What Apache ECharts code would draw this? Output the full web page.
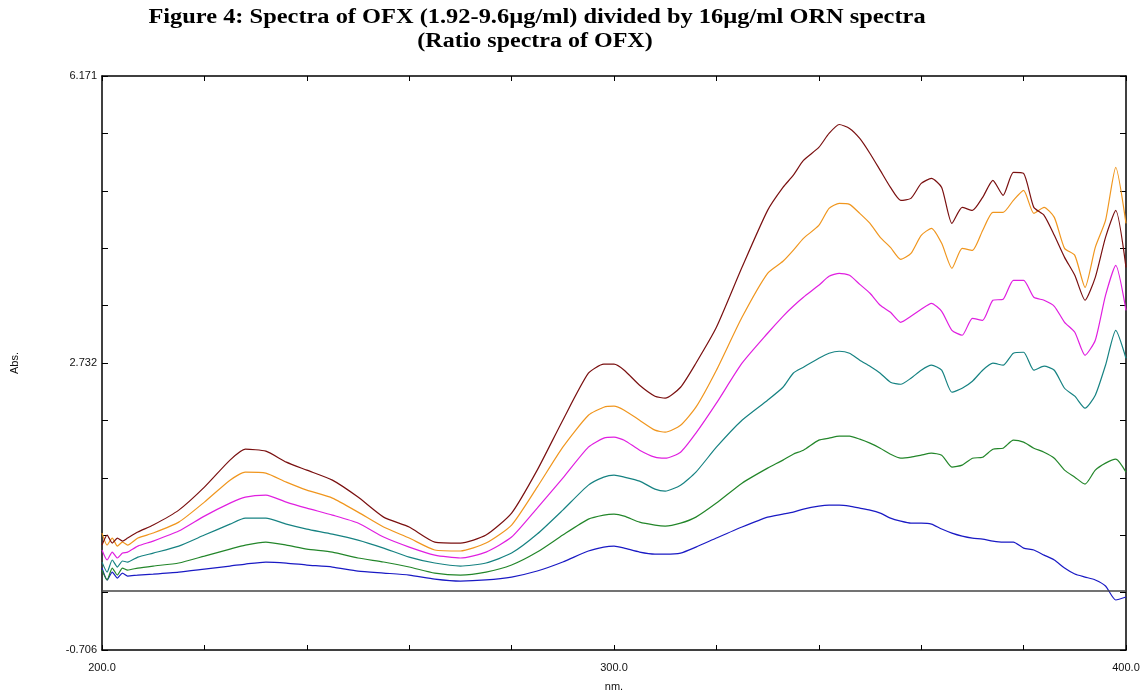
<!DOCTYPE html>
<html>
<head>
<meta charset="UTF-8">
<title>Ratio spectra of OFX</title>
<script src="https://cdn.jsdelivr.net/npm/echarts@6/dist/echarts.min.js"></script>
<style>
  html, body { margin: 0; padding: 0; background: #fff; }
  #chart { width: 1144px; height: 692px; }
</style>
</head>
<body>
<div id="chart"></div>
<script>
// wavelength (nm), shared by all six spectra
var wavelength = [200, 201, 202, 203, 204, 205, 207, 210, 215, 220, 225, 228, 232, 236, 240, 245,
  250, 255, 260, 265, 270, 275, 280, 285, 290, 295, 298, 300, 302, 305, 308, 310, 313, 316, 320,
  325, 330, 333, 335, 337, 340, 342, 344, 346, 348, 350, 352, 354, 356, 358, 360, 362, 364, 366,
  368, 370, 372, 374, 376, 378, 380, 382, 384, 386, 388, 390, 392, 394, 396, 398, 400];

// ratio spectra, highest concentration first (Abs.)
var brown = [0.551, 0.671, 0.575, 0.635, 0.599, 0.635, 0.707, 0.791, 0.970, 1.245, 1.569, 1.700,
  1.676, 1.545, 1.449, 1.329, 1.126, 0.886, 0.767, 0.587, 0.575, 0.671, 0.934, 1.449, 2.047, 2.610,
  2.718, 2.718, 2.646, 2.466, 2.335, 2.311, 2.442, 2.730, 3.160, 3.879, 4.561, 4.836, 4.980, 5.159,
  5.315, 5.483, 5.590, 5.543, 5.423, 5.243, 5.040, 4.836, 4.681, 4.705, 4.884, 4.944, 4.836, 4.405,
  4.597, 4.561, 4.717, 4.920, 4.741, 5.016, 5.004, 4.597, 4.501, 4.262, 3.998, 3.783, 3.484, 3.759,
  4.238, 4.561, 3.879];
var orange = [0.695, 0.551, 0.635, 0.539, 0.587, 0.551, 0.635, 0.695, 0.826, 1.066, 1.329, 1.425,
  1.413, 1.305, 1.210, 1.114, 0.946, 0.767, 0.635, 0.492, 0.480, 0.575, 0.791, 1.245, 1.724, 2.107,
  2.203, 2.215, 2.167, 2.047, 1.928, 1.904, 1.987, 2.203, 2.646, 3.280, 3.807, 3.951, 4.082, 4.226,
  4.381, 4.585, 4.645, 4.633, 4.525, 4.405, 4.238, 4.118, 3.974, 4.046, 4.262, 4.346, 4.166, 3.867,
  4.106, 4.082, 4.321, 4.537, 4.537, 4.681, 4.800, 4.525, 4.597, 4.477, 4.106, 4.022, 3.639, 4.118,
  4.441, 5.076, 4.405];
var magenta = [0.492, 0.372, 0.467, 0.396, 0.455, 0.467, 0.539, 0.599, 0.719, 0.898, 1.054, 1.126,
  1.150, 1.066, 0.994, 0.910, 0.815, 0.647, 0.527, 0.431, 0.396, 0.467, 0.647, 0.994, 1.353, 1.724,
  1.832, 1.844, 1.808, 1.688, 1.604, 1.592, 1.664, 1.892, 2.251, 2.730, 3.089, 3.292, 3.412, 3.520,
  3.663, 3.771, 3.807, 3.783, 3.675, 3.568, 3.424, 3.340, 3.220, 3.292, 3.376, 3.448, 3.352, 3.124,
  3.065, 3.268, 3.244, 3.484, 3.496, 3.723, 3.723, 3.520, 3.484, 3.412, 3.220, 3.101, 2.825, 3.005,
  3.543, 3.903, 3.364];
var teal = [0.347, 0.228, 0.372, 0.288, 0.360, 0.347, 0.407, 0.455, 0.539, 0.671, 0.802, 0.874,
  0.874, 0.802, 0.743, 0.683, 0.611, 0.515, 0.407, 0.336, 0.300, 0.336, 0.455, 0.683, 0.970, 1.269,
  1.365, 1.389, 1.365, 1.317, 1.222, 1.198, 1.269, 1.425, 1.724, 2.047, 2.287, 2.442, 2.610, 2.682,
  2.789, 2.849, 2.873, 2.849, 2.765, 2.694, 2.610, 2.502, 2.478, 2.550, 2.646, 2.706, 2.646, 2.382,
  2.430, 2.514, 2.646, 2.730, 2.706, 2.849, 2.861, 2.646, 2.694, 2.646, 2.430, 2.335, 2.191, 2.347,
  2.706, 3.124, 2.789];
var green = [0.252, 0.133, 0.276, 0.192, 0.276, 0.252, 0.276, 0.300, 0.336, 0.419, 0.503, 0.551,
  0.587, 0.551, 0.503, 0.467, 0.396, 0.348, 0.288, 0.216, 0.192, 0.228, 0.312, 0.467, 0.671, 0.862,
  0.910, 0.922, 0.898, 0.826, 0.791, 0.779, 0.814, 0.886, 1.054, 1.293, 1.473, 1.569, 1.640, 1.688,
  1.808, 1.832, 1.856, 1.856, 1.820, 1.772, 1.712, 1.640, 1.592, 1.604, 1.628, 1.652, 1.628, 1.485,
  1.509, 1.592, 1.604, 1.700, 1.712, 1.808, 1.784, 1.712, 1.664, 1.592, 1.449, 1.365, 1.281, 1.449,
  1.533, 1.581, 1.425];
var blue = [0.276, 0.133, 0.228, 0.156, 0.216, 0.180, 0.192, 0.204, 0.228, 0.264, 0.300, 0.324,
  0.348, 0.336, 0.312, 0.288, 0.240, 0.216, 0.192, 0.144, 0.120, 0.133, 0.168, 0.240, 0.348, 0.480,
  0.527, 0.539, 0.515, 0.467, 0.443, 0.443, 0.455, 0.527, 0.635, 0.767, 0.886, 0.922, 0.946, 0.982,
  1.018, 1.030, 1.030, 1.018, 0.994, 0.970, 0.934, 0.874, 0.838, 0.814, 0.814, 0.802, 0.743, 0.695,
  0.659, 0.635, 0.623, 0.599, 0.587, 0.587, 0.515, 0.492, 0.431, 0.372, 0.276, 0.204, 0.168, 0.133,
  0.061, -0.107, -0.071];

// axis ticks / labels
var xMin = 200, xMax = 400, xStep = 20;
var xLabels = [200, 300, 400];
var yMin = -0.706, yMax = 6.171;
var yLabels = ['-0.706', '2.732', '6.171'];

var titleLine1 = 'Figure 4: Spectra of OFX (1.92-9.6\u00b5g/ml) divided by 16\u00b5g/ml ORN spectra';
var titleLine2 = '(Ratio spectra of OFX)';

var chart = echarts.init(document.getElementById('chart'));

function pairs(vals) {
  return wavelength.map(function (w, i) { return [w, vals[i]]; });
}

var yStep = (yMax - yMin) / 10;

function yLabel(v) {
  for (var i = 0; i < yLabels.length; i++) {
    if (Math.abs(v - parseFloat(yLabels[i])) < 0.01) return yLabels[i];
  }
  return '';
}

var labelFont = { fontFamily: 'Liberation Sans, Arial, sans-serif', fontSize: 11, color: '#111' };
var axisLine = { show: true, onZero: false, lineStyle: { color: '#000', width: 1.5 } };
var titleFont = 'bold 20px "Liberation Serif", "Times New Roman", serif';

var spectra = [
  { name: 'blue', data: blue, color: '#1a1ac4' },
  { name: 'green', data: green, color: '#23862a' },
  { name: 'teal', data: teal, color: '#168282' },
  { name: 'magenta', data: magenta, color: '#e01fe0' },
  { name: 'orange', data: orange, color: '#f0961e' },
  { name: 'brown', data: brown, color: '#7a1010' }
];

var series = spectra.map(function (s) {
  return {
    name: s.name,
    type: 'line',
    data: pairs(s.data),
    showSymbol: false,
    symbol: 'none',
    smooth: 0.2,
    lineStyle: { color: s.color, width: 1.2 },
    itemStyle: { color: s.color }
  };
});
// horizontal zero line
series[0].markLine = {
  silent: true,
  symbol: 'none',
  label: { show: false },
  lineStyle: { color: '#444', width: 1.5, type: 'solid' },
  data: [{ yAxis: 0 }]
};

var option = {
  animation: false,
  backgroundColor: '#fff',
  grid: { left: 102, right: 18, top: 76, bottom: 42, outerBoundsMode: 'none' },
  graphic: [
    { type: 'text', x: 537, y: 18, scaleX: 1.22, style: { text: titleLine1, textAlign: 'center',
      textVerticalAlign: 'middle', font: titleFont, fill: '#000' } },
    { type: 'text', x: 535, y: 42, scaleX: 1.2, style: { text: titleLine2, textAlign: 'center',
      textVerticalAlign: 'middle', font: titleFont, fill: '#000' } }
  ],
  xAxis: [
    {
      type: 'value', min: xMin, max: xMax, interval: xStep, position: 'bottom',
      name: 'nm.', nameLocation: 'middle', nameGap: 31, nameTextStyle: labelFont,
      axisLine: axisLine,
      axisTick: { show: true, inside: true, length: 5, lineStyle: { color: '#000' } },
      axisLabel: Object.assign({ margin: 12, formatter: function (v) {
        return xLabels.indexOf(v) >= 0 ? v.toFixed(1) : '';
      } }, labelFont),
      splitLine: { show: false }
    },
    {
      type: 'value', min: xMin, max: xMax, interval: xStep, position: 'top',
      axisLine: axisLine,
      axisTick: { show: true, inside: true, length: 5, lineStyle: { color: '#000' } },
      axisLabel: { show: false },
      splitLine: { show: false }
    }
  ],
  yAxis: [
    {
      type: 'value', min: yMin, max: yMax, interval: yStep, position: 'left',
      name: 'Abs.', nameLocation: 'middle', nameGap: 82, nameRotate: 90, nameTextStyle: labelFont,
      axisLine: axisLine,
      axisTick: { show: true, inside: true, length: 6, lineStyle: { color: '#000' } },
      axisLabel: Object.assign({ margin: 5, formatter: yLabel, showMinLabel: true, showMaxLabel: true }, labelFont),
      splitLine: { show: false }
    },
    {
      type: 'value', min: yMin, max: yMax, interval: yStep, position: 'right',
      axisLine: axisLine,
      axisTick: { show: true, inside: true, length: 6, lineStyle: { color: '#000' } },
      axisLabel: { show: false },
      splitLine: { show: false }
    }
  ],
  series: series
};

chart.setOption(option);
</script>
</body>
</html>
